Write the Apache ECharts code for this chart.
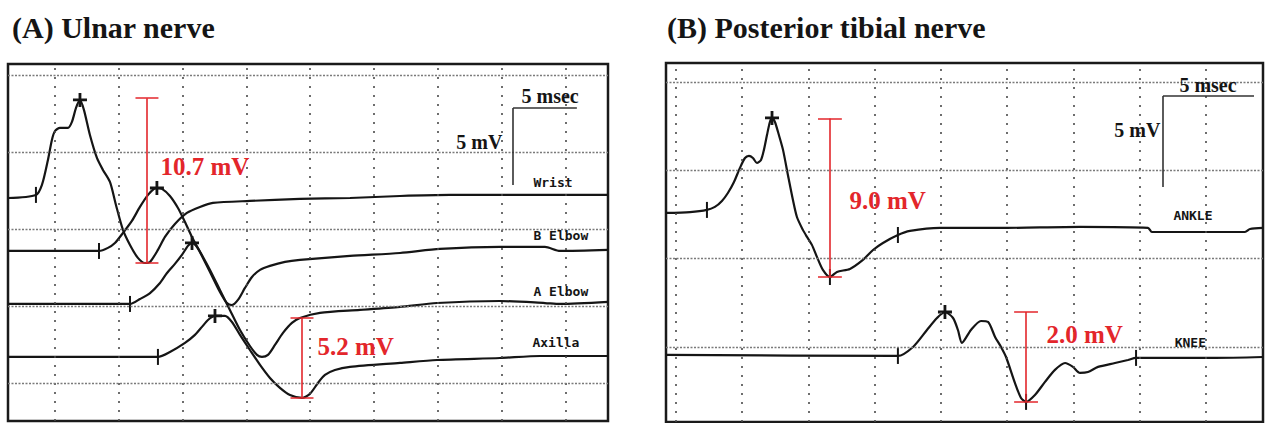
<!DOCTYPE html>
<html><head><meta charset="utf-8">
<script src="https://cdn.jsdelivr.net/npm/echarts@6/dist/echarts.min.js"></script>
<style>html,body{margin:0;padding:0;background:#fff}#c{width:1268px;height:423px}</style>
</head><body><div id="c"></div>
<script>
// ---------- DATA (time in ms, amplitude in mV) ----------
const panelTitles = ['(A) Ulnar nerve', '(B) Posterior tibial nerve'];
const ulnarSiteNames = ['Wrist', 'B Elbow', 'A Elbow', 'Axilla'];
const tibialSiteNames = ['ANKLE', 'KNEE'];
const gridTimeTicks = [0, 5, 10, 15, 20, 25, 30, 35, 40];
const ulnarVoltTicks = [0, 5, 10, 15, 20];
const tibialVoltTicks = [0, 5, 10, 15];

const wristTrace = [[-3.68,12.01],[-1.49,12.21],[-1.02,12.86],[-0.55,14.48],[-0.24,15.78],[0,16.36],[0.39,16.56],[1.02,16.56],[1.33,16.95],[1.65,17.86],[1.96,18.38],[2.27,17.73],[2.74,16.10],[3.29,14.61],[3.76,13.83],[4.31,13.05],[4.78,11.56],[5.33,9.94],[5.88,8.96],[6.50,8.12],[7.05,7.79],[7.45,7.86],[8.07,8.64],[8.62,9.48],[9.40,10.32],[10.34,11.04],[11.36,11.43],[12.38,11.69],[15.28,11.82],[19.20,11.95],[23.12,12.01],[27.04,12.14],[30.96,12.21],[43.34,12.21]];
const bElbowTrace = [[-3.68,8.57],[3.45,8.57],[4.15,8.77],[4.70,9.09],[5.33,9.74],[6.03,10.52],[6.66,11.43],[7.29,12.21],[7.76,12.60],[7.99,12.66],[8.39,12.60],[9.01,12.14],[9.64,11.36],[10.19,10.45],[10.74,9.48],[11.36,8.51],[12.15,7.21],[12.93,5.91],[13.48,5.19],[13.87,5.06],[14.34,5.39],[14.89,6.17],[15.44,6.88],[16.07,7.34],[16.85,7.60],[18.03,7.86],[19.20,7.99],[23.12,8.25],[27.04,8.44],[30.17,8.70],[34.87,8.83],[38.40,8.83],[39.58,8.57],[43.34,8.64]];
const aElbowTrace = [[-3.68,5.13],[5.88,5.13],[6.66,5.45],[7.45,5.84],[8.23,6.49],[8.78,7.14],[9.40,7.73],[9.95,8.31],[10.42,8.90],[10.74,9.09],[11.13,8.83],[11.60,8.18],[12.15,7.34],[12.93,6.04],[13.71,4.74],[14.50,3.44],[15.28,2.40],[15.83,1.82],[16.22,1.69],[16.69,1.82],[17.24,2.47],[17.87,3.25],[18.57,3.90],[19.20,4.22],[20.77,4.55],[23.90,4.74],[27.04,4.94],[29.94,5.19],[34.87,5.32],[38.40,5.19],[39.58,5.13],[43.34,5.26]];
const axillaTrace = [[-3.68,1.69],[8.07,1.69],[9.01,2.01],[10.19,2.60],[10.97,3.12],[11.52,3.64],[11.99,4.09],[12.54,4.35],[13.32,4.35],[13.87,3.96],[14.50,3.12],[15.28,2.14],[16.07,1.17],[16.85,0.32],[17.63,-0.32],[18.42,-0.78],[19.36,-0.97],[19.98,-0.71],[20.61,0.00],[21.16,0.52],[21.94,0.84],[23.12,1.04],[27.04,1.30],[29.94,1.49],[34.87,1.62],[38.01,1.75],[43.34,1.75]];

const ankleTrace = [[-0.75,7.59],[1.06,7.64],[2.34,7.76],[2.94,7.93],[3.47,8.27],[3.92,8.72],[4.38,9.34],[4.83,10.14],[5.21,10.70],[5.51,10.82],[5.81,10.70],[6.11,10.42],[6.42,10.59],[6.64,11.16],[6.87,12.00],[7.09,12.74],[7.25,12.97],[7.47,12.74],[7.77,12.00],[8.08,11.16],[8.45,9.74],[8.83,8.32],[9.13,7.36],[9.58,6.63],[9.89,6.23],[10.26,5.78],[10.64,5.10],[11.09,4.36],[11.62,3.96],[12.15,4.25],[13.13,4.42],[14.11,4.93],[14.87,5.49],[15.62,5.89],[16.75,6.34],[17.66,6.57],[19.92,6.74],[24.45,6.74],[30.49,6.80],[35.62,6.74],[35.92,6.51],[42.94,6.51],[43.32,6.68],[44.30,6.74]];
const kneeTrace = [[-0.75,-0.45],[16.75,-0.51],[17.89,0.00],[18.94,0.96],[19.70,1.64],[20.30,1.98],[20.91,1.64],[21.28,0.96],[21.58,0.23],[22.26,0.96],[23.02,1.47],[23.55,1.42],[24.08,0.57],[24.53,0.00],[24.91,-0.57],[25.58,-2.04],[26.04,-2.89],[26.42,-3.11],[27.09,-2.72],[27.85,-1.98],[28.60,-1.30],[29.36,-0.91],[29.96,-1.13],[30.49,-1.47],[31.09,-1.42],[31.85,-1.13],[33.13,-0.91],[34.11,-0.74],[34.72,-0.62],[35.62,-0.62],[40.68,-0.62],[44.30,-0.57]];

const ulnarOnsetMarks = [[-1.49,12.21],[3.45,8.57],[5.88,5.13],[8.07,1.69]];
const ulnarPeakMarks = [[1.96,18.38],[7.99,12.66],[10.74,9.09],[12.54,4.35]];
const tibialTickMarks = [[2.34,7.76],[11.62,3.96],[16.75,6.34],[16.75,-0.51],[26.42,-3.11],[34.72,-0.62]];
const tibialPeakMarks = [[7.25,12.97],[20.30,1.98]];

// amplitude bars: [time, low, high] and their read-out values (mV)
const ulnarAmpBars = [[7.21,7.79,18.49],[19.36,-0.97,4.22]];
const ulnarAmpValues = [10.7, 5.2];
const tibialAmpBars = [[11.62,3.96,12.93],[26.42,-3.11,1.98]];
const tibialAmpValues = [9.0, 2.0];
const scaleBarMs = 5, scaleBarMv = 5;

// ---------- CHART ----------
const chart = echarts.init(document.getElementById('c'), null, {renderer: 'svg'});
const INK = '#151515', RED = '#e3262b';

function gridLines(ax, xs, ys) {
  return {
    type: 'line', xAxisIndex: ax, yAxisIndex: ax, data: [], silent: true, z: 1,
    markLine: {
      silent: true, symbol: 'none', animation: false, label: {show: false},
      data: xs.map(x => ({xAxis: x, lineStyle: {type: [2, 7], color: '#4a4a4a', width: 1.6}}))
        .concat(ys.map(y => ({yAxis: y, lineStyle: {type: [2, 1.5], color: '#7a7a7a', width: 1.3}})))
    }
  };
}
function trace(ax, data) {
  return {type: 'line', xAxisIndex: ax, yAxisIndex: ax, data, showSymbol: false, smooth: 0.25,
    lineStyle: {color: INK, width: 2.2}, z: 3, silent: true, animation: false};
}
function ticks(ax, data, peak) {
  return {type: 'scatter', xAxisIndex: ax, yAxisIndex: ax, data, silent: true, z: 4, animation: false,
    symbol: peak ? 'path://M4,0 L6,0 L6,4 L10,4 L10,6 L6,6 L6,10 L4,10 L4,6 L0,6 L0,4 L4,4 Z' : 'rect',
    symbolSize: peak ? 14 : [2, 16], itemStyle: {color: INK, opacity: 1}};
}
function ampBars(ax, bars, cap) {
  const segs = [];
  bars.forEach(([t, lo, hi]) => {
    segs.push({coords: [[t, lo], [t, hi]]});
    segs.push({coords: [[t - cap, hi], [t + cap, hi]]});
    segs.push({coords: [[t - cap, lo], [t + cap, lo]]});
  });
  return {type: 'lines', coordinateSystem: 'cartesian2d', xAxisIndex: ax, yAxisIndex: ax, data: segs,
    silent: true, z: 5, animation: false, lineStyle: {color: RED, width: 1.6, opacity: 1}};
}
function scaleBar(ax, x0, y0, msLen, mvLen) {
  return {type: 'lines', coordinateSystem: 'cartesian2d', xAxisIndex: ax, yAxisIndex: ax, silent: true, z: 5,
    animation: false, lineStyle: {color: '#333', width: 1.6, opacity: 1},
    data: [{coords: [[x0, y0], [x0 + msLen, y0]]}, {coords: [[x0, y0], [x0, y0 - mvLen]]}]};
}
function texts(ax, items, style, pos) {
  return {type: 'scatter', xAxisIndex: ax, yAxisIndex: ax, silent: true, z: 6, animation: false,
    symbolSize: 1, itemStyle: {color: 'rgba(0,0,0,0)', opacity: 1},
    data: items.map(([name, x, y]) => ({name, value: [x, y]})),
    label: Object.assign({show: true, position: pos, distance: 0, formatter: '{b}', opacity: 1}, style)};
}

const serifBold = {fontFamily: 'Liberation Serif', fontWeight: 'bold'};
const mono = {fontFamily: 'DejaVu Sans Mono', fontWeight: 'bold', fontSize: 13, color: INK};
const redLab = Object.assign({fontSize: 25, color: RED}, serifBold);
const scaleLab = Object.assign({fontSize: 20, color: INK}, serifBold);

const option = {
  backgroundColor: '#fff',
  animation: false,
  title: [
    {text: panelTitles[0], left: 7, top: 7, textStyle: Object.assign({fontSize: 30, color: INK}, serifBold)},
    {text: panelTitles[1], left: 662, top: 7, textStyle: Object.assign({fontSize: 30, color: INK}, serifBold)}
  ],
  grid: [
    {left: 8, top: 64, width: 600, height: 357, show: true, borderColor: '#1a1a1a', borderWidth: 2.5, backgroundColor: '#fff'},
    {left: 666, top: 63, width: 597, height: 359, show: true, borderColor: '#1a1a1a', borderWidth: 2.5, backgroundColor: '#fff'}
  ],
  xAxis: [
    {gridIndex: 0, type: 'value', min: -3.68, max: 43.34, show: false},
    {gridIndex: 1, type: 'value', min: -0.75, max: 44.30, show: false}
  ],
  yAxis: [
    {gridIndex: 0, type: 'value', min: -2.47, max: 20.71, show: false},
    {gridIndex: 1, type: 'value', min: -4.25, max: 16.08, show: false}
  ],
  series: [
    gridLines(0, gridTimeTicks, ulnarVoltTicks),
    gridLines(1, gridTimeTicks, tibialVoltTicks),
    trace(0, wristTrace), trace(0, bElbowTrace), trace(0, aElbowTrace), trace(0, axillaTrace),
    trace(1, ankleTrace), trace(1, kneeTrace),
    ticks(0, ulnarOnsetMarks, false), ticks(0, ulnarPeakMarks, true),
    ticks(1, tibialTickMarks, false), ticks(1, tibialPeakMarks, true),
    ampBars(0, ulnarAmpBars, 0.9), ampBars(1, tibialAmpBars, 0.9),
    scaleBar(0, 35.9, 17.86, scaleBarMs * 1.0, scaleBarMv * 1.0),
    scaleBar(1, 36.75, 14.21, scaleBarMs * 1.374, scaleBarMv * 1.03),
    texts(0, [[ulnarAmpValues[0].toFixed(1) + ' mV', 8.23, 14.03], [ulnarAmpValues[1].toFixed(1) + ' mV', 20.53, 2.34]], redLab, 'right'),
    texts(1, [[tibialAmpValues[0].toFixed(1) + ' mV', 13.06, 8.32], [tibialAmpValues[1].toFixed(1) + ' mV', 27.92, 0.68]], redLab, 'right'),
    texts(0, [[scaleBarMs + ' msec', 38.8, 18.6]], scaleLab, 'inside'),
    texts(0, [[scaleBarMv + ' mV', 35.1, 15.65]], scaleLab, 'left'),
    texts(1, [[scaleBarMs + ' msec', 40.15, 14.84]], scaleLab, 'inside'),
    texts(1, [[scaleBarMv + ' mV', 36.6, 12.29]], scaleLab, 'left'),
    texts(0, [[ulnarSiteNames[0], 37.46, 12.99], [ulnarSiteNames[1], 37.46, 9.55], [ulnarSiteNames[2], 37.46, 5.97], [ulnarSiteNames[3], 37.38, 2.60]], mono, 'right'),
    texts(1, [[tibialSiteNames[0], 37.5, 7.47], [tibialSiteNames[1], 37.6, 0.23]], mono, 'right')
  ]
};
chart.setOption(option);
</script></body></html>
